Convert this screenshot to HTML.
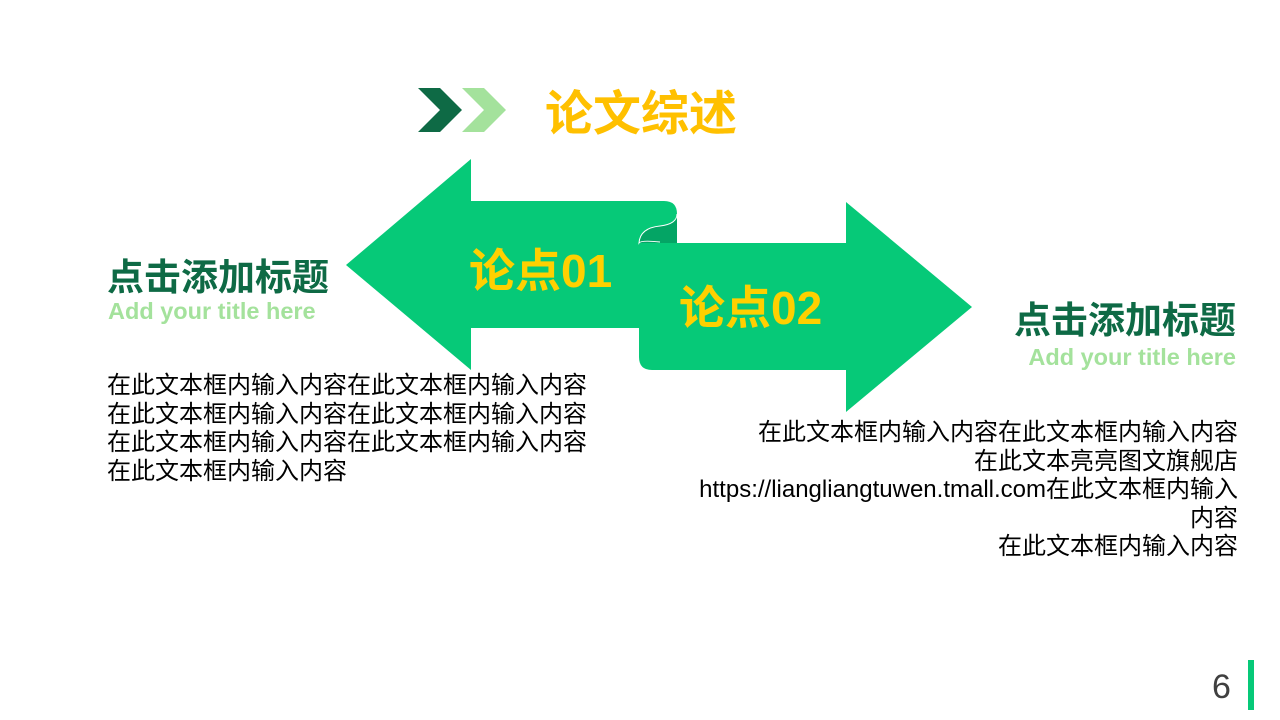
<!DOCTYPE html>
<html><head><meta charset="utf-8"><style>
body{margin:0;width:1280px;height:720px;background:#fff;position:relative;overflow:hidden;font-family:"Liberation Sans","Noto Sans CJK SC",sans-serif}
.a{position:absolute;white-space:nowrap}
.t{font-size:37px;font-weight:bold;color:#0e6a45}
.s{font-size:23.5px;font-weight:bold;color:#a4e29c}
.b{font-size:24px;line-height:28.5px;color:#000}
</style></head><body>
<svg width="1280" height="720" style="position:absolute;left:0;top:0">
<polygon points="418,88 440,88 462,110 440,132 418,132 440,110" fill="#0e6a45"/>
<polygon points="462,88 484,88 506,110 484,132 462,132 484,110" fill="#a4e29c"/>
<path d="M346,265 L471,159 L471,201 L664,201 Q677,201 677,214 L677,328 L471,328 L471,370 Z" fill="#06c978"/>
<path d="M846,202 L972,307 L846,412 L846,370 L652,370 Q639,370 639,357 L639,243 L846,243 Z" fill="#06c978"/>
<path d="M677,214 Q677,224 660,226 Q640,228 639,243 L677,243 Z" fill="#04a565"/>
<path d="M677,214 Q677,224 660,226 Q640,228 639,243 Q641,240 660,242" fill="none" stroke="#fff" stroke-width="1"/>
<rect x="1248" y="660" width="6" height="50" fill="#06c978"/>
</svg>
<div class="a" style="left:545px;top:74px;font-size:48px;font-weight:bold;color:#ffc000">论文综述</div>
<div class="a" style="left:469px;top:235px;font-size:46px;font-weight:bold;color:#ffd000">论点01</div>
<div class="a" style="left:679px;top:272px;font-size:46px;font-weight:bold;color:#ffd000">论点02</div>
<div class="a t" style="left:107px;top:247px">点击添加标题</div>
<div class="a s" style="left:108px;top:298px">Add your title here</div>
<div class="a b" style="left:107px;top:372px">在此文本框内输入内容在此文本框内输入内容<br>在此文本框内输入内容在此文本框内输入内容<br>在此文本框内输入内容在此文本框内输入内容<br>在此文本框内输入内容</div>
<div class="a t" style="right:44px;top:290px;text-align:right">点击添加标题</div>
<div class="a s" style="right:44px;top:344px;text-align:right">Add your title here</div>
<div class="a b" style="right:42px;top:419px;text-align:right">在此文本框内输入内容在此文本框内输入内容<br>在此文本亮亮图文旗舰店<br>https://liangliangtuwen.tmall.com在此文本框内输入<br>内容<br>在此文本框内输入内容</div>
<div class="a" style="left:1212px;top:668px;font-size:34px;color:#404040">6</div>
</body></html>
